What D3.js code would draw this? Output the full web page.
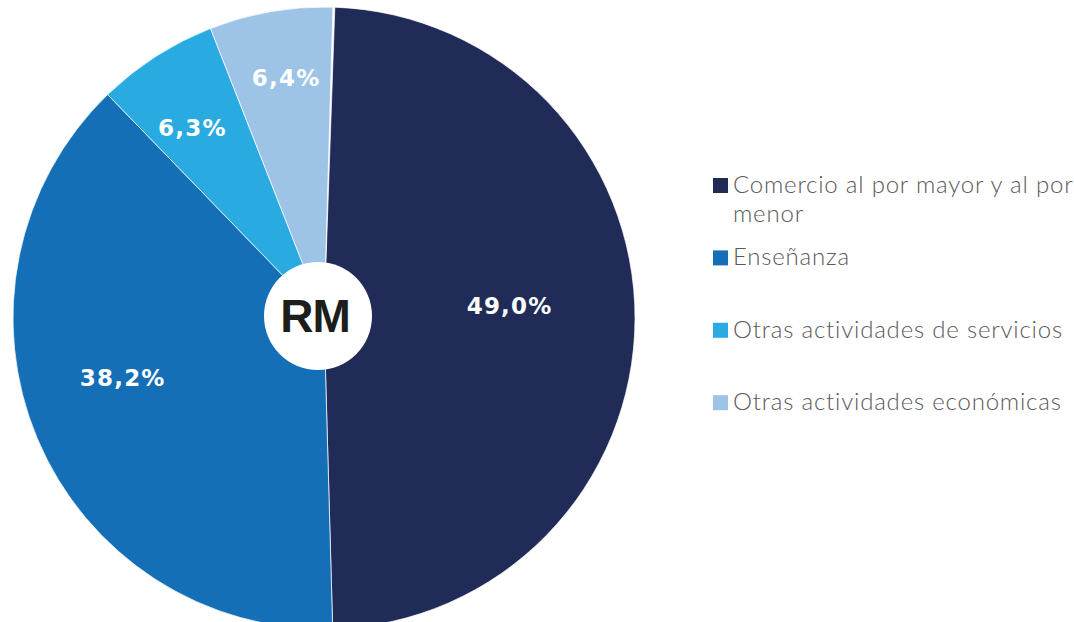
<!DOCTYPE html>
<html>
<head>
<meta charset="utf-8">
<script src="https://cdn.jsdelivr.net/npm/d3@7"></script>
<style>
  body { margin: 0; background: #fff; }
  svg { display: block; }
</style>
</head>
<body>
<div id="chart"></div>
<script>
// data
var categories = ['Comercio al por mayor y al por menor', 'Enseñanza', 'Otras actividades de servicios', 'Otras actividades económicas'];
var values = [49.0, 38.2, 6.3, 6.4];
var valueLabels = ['49,0%', '38,2%', '6,3%', '6,4%'];
var colors = ['#212b57', '#146fb7', '#29abe2', '#9dc3e6'];
var centerLabel = 'RM';

var width = 1074, height = 622;
var cx = 324, cy = 318, radius = 311;
// label placement: distance from centre and angle nudge (degrees), one per slice
var labelR = [186, 210, 231, 243];
var labelNudge = [-3.9, 6.3, -2.0, 0.9];

var svg = d3.select('#chart').append('svg')
    .attr('width', width)
    .attr('height', height);

var start = 2.0 * Math.PI / 180;
var pie = d3.pie()
    .sort(null)
    .startAngle(start)
    .endAngle(start + 2 * Math.PI * d3.sum(values) / 100)
    .value(d => d);

var arcs = pie(values);
var arc = d3.arc().innerRadius(0).outerRadius(radius);

var g = svg.append('g').attr('transform', 'translate(' + cx + ',' + cy + ')');

g.selectAll('path')
    .data(arcs)
    .enter().append('path')
    .attr('d', arc)
    .style('fill', (d, i) => colors[i])
    .style('stroke', '#ffffff')
    .style('stroke-width', 0.7);

function labelAngle(d, i) {
    return (d.startAngle + d.endAngle) / 2 + labelNudge[i] * Math.PI / 180;
}

// percentage labels
g.selectAll('text.val')
    .data(arcs)
    .enter().append('text')
    .classed('val', true)
    .attr('x', (d, i) => Math.sin(labelAngle(d, i)) * labelR[i])
    .attr('y', (d, i) => -Math.cos(labelAngle(d, i)) * labelR[i])
    .attr('text-anchor', 'middle')
    .attr('dominant-baseline', 'central')
    .style('font-family', '"DejaVu Sans", sans-serif')
    .style('font-weight', 'bold')
    .style('font-size', '23px')
    .style('letter-spacing', '1.2px')
    .style('fill', '#ffffff')
    .text((d, i) => valueLabels[i]);

// white disc in the middle
svg.append('circle')
    .attr('cx', cx - 6)
    .attr('cy', cy - 2)
    .attr('r', 54)
    .style('fill', '#ffffff');

svg.append('text')
    .attr('x', cx - 9)
    .attr('y', cy - 2)
    .attr('text-anchor', 'middle')
    .attr('dominant-baseline', 'central')
    .style('font-family', '"Liberation Sans", Arial, sans-serif')
    .style('font-weight', 'bold')
    .style('font-size', '46px')
    .style('letter-spacing', '-1px')
    .style('fill', '#1d1d1b')
    .text(centerLabel);

// legend
var legX = 713, legY = 193, legStep = 72.4, box = 15, wrapW = 350;

var leg = svg.selectAll('g.leg')
    .data(categories)
    .enter().append('g')
    .classed('leg', true)
    .attr('transform', (d, i) => 'translate(' + legX + ',' + (legY + i * legStep) + ')');

leg.append('rect')
    .attr('x', 0)
    .attr('y', -box)
    .attr('width', box)
    .attr('height', box)
    .style('fill', (d, i) => colors[i]);

leg.append('text')
    .attr('x', 20)
    .attr('y', 0)
    .style('font-family', 'Lato, sans-serif')
    .style('font-weight', 300)
    .style('font-size', '24px')
    .style('letter-spacing', '0.8px')
    .style('fill', '#595959')
    .each(function(d) {
        var t = d3.select(this);
        var words = d.split(' ');
        var line = [];
        var ts = t.append('tspan').attr('x', 20).attr('dy', 0);
        words.forEach(function(w) {
            line.push(w);
            ts.text(line.join(' '));
            if (ts.node().getComputedTextLength() > wrapW && line.length > 1) {
                line.pop();
                ts.text(line.join(' '));
                line = [w];
                ts = t.append('tspan').attr('x', 20).attr('dy', 29).text(w);
            }
        });
    });
</script>
</body>
</html>
